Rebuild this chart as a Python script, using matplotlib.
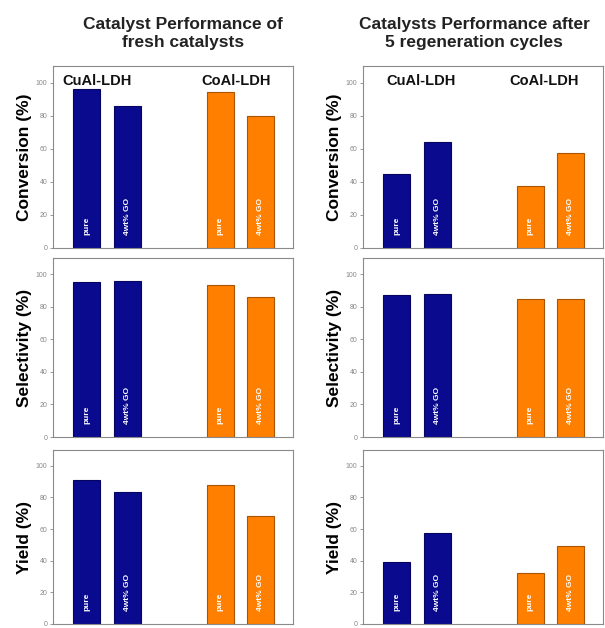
import matplotlib
matplotlib.use("Agg")
import matplotlib.pyplot as plt

plt.rcParams['font.family'] = ['Liberation Sans', 'DejaVu Sans']

groups = ["CuAl-LDH", "CoAl-LDH"]
bar_labels = ["pure", "4wt% GO", "pure", "4wt% GO"]
metrics = ["Conversion (%)", "Selectivity (%)", "Yield (%)"]
col_titles = ["Catalyst Performance of\nfresh catalysts",
              "Catalysts Performance after\n5 regeneration cycles"]

fresh_conversion = [96, 86, 94.5, 80]
fresh_selectivity = [95, 96, 93.5, 86]
fresh_yield = [91, 83.5, 88, 68.5]
regen_conversion = [44.5, 64, 37.5, 57.5]
regen_selectivity = [87.5, 88, 84.5, 84.5]
regen_yield = [39.5, 57.5, 32.5, 49.5]

data = [[fresh_conversion, regen_conversion],
        [fresh_selectivity, regen_selectivity],
        [fresh_yield, regen_yield]]

positions = [1, 2, 4.3, 5.3]
face_colors = ["#0A0A8E", "#0A0A8E", "#FF8000", "#FF8000"]
edge_colors = ["#050560", "#050560", "#A85400", "#A85400"]

fig = plt.figure(figsize=(6.05, 6.28), dpi=100)
W, H = 605, 628
col_x = [53, 363]
col_w = 240
rows = [(66, 248), (258, 437), (450, 624)]

for r, (top, bot) in enumerate(rows):
    for c in range(2):
        ax = fig.add_axes([col_x[c] / W, 1 - bot / H, col_w / W, (bot - top) / H])
        vals = data[r][c]
        ax.bar(positions, vals, width=0.67, color=face_colors,
               edgecolor=edge_colors, linewidth=0.8)
        for p, lab in zip(positions, bar_labels):
            ax.text(p, 8, lab, rotation=90, ha='center', va='bottom',
                    color='white', fontsize=6, fontweight='bold')
        ax.set_xlim(0.17, 6.1)
        ax.set_ylim(0, 110)
        ax.set_xticks([])
        ax.set_yticks([0, 20, 40, 60, 80, 100])
        ax.tick_params(axis='y', labelsize=5, colors='#888888', length=2.5,
                       width=0.6, pad=1.5)
        for s in ax.spines.values():
            s.set_color('#8a8a8a')
            s.set_linewidth(0.8)
        ax.set_ylabel(metrics[r], fontsize=12.5, fontweight='bold', labelpad=3)
        if r == 0:
            ax.text((positions[0] + positions[1]) / 2 - (0.25 if c == 0 else -0.1), 101,
                    groups[0], ha='center', va='center', fontsize=10.5,
                    fontweight='bold', color='#111111')
            ax.text((positions[2] + positions[3]) / 2 - (0.1 if c == 0 else 0.15), 101,
                    groups[1], ha='center', va='center', fontsize=10.5,
                    fontweight='bold', color='#111111')

fig.text(183 / W, 1 - 33 / H, col_titles[0], ha='center', va='center',
         fontsize=12.5, fontweight='bold', linespacing=1.25, color='#222222')
fig.text(474 / W, 1 - 33 / H, col_titles[1], ha='center', va='center',
         fontsize=12.5, fontweight='bold', linespacing=1.25, color='#222222')

fig.savefig("out.png", dpi=100)
